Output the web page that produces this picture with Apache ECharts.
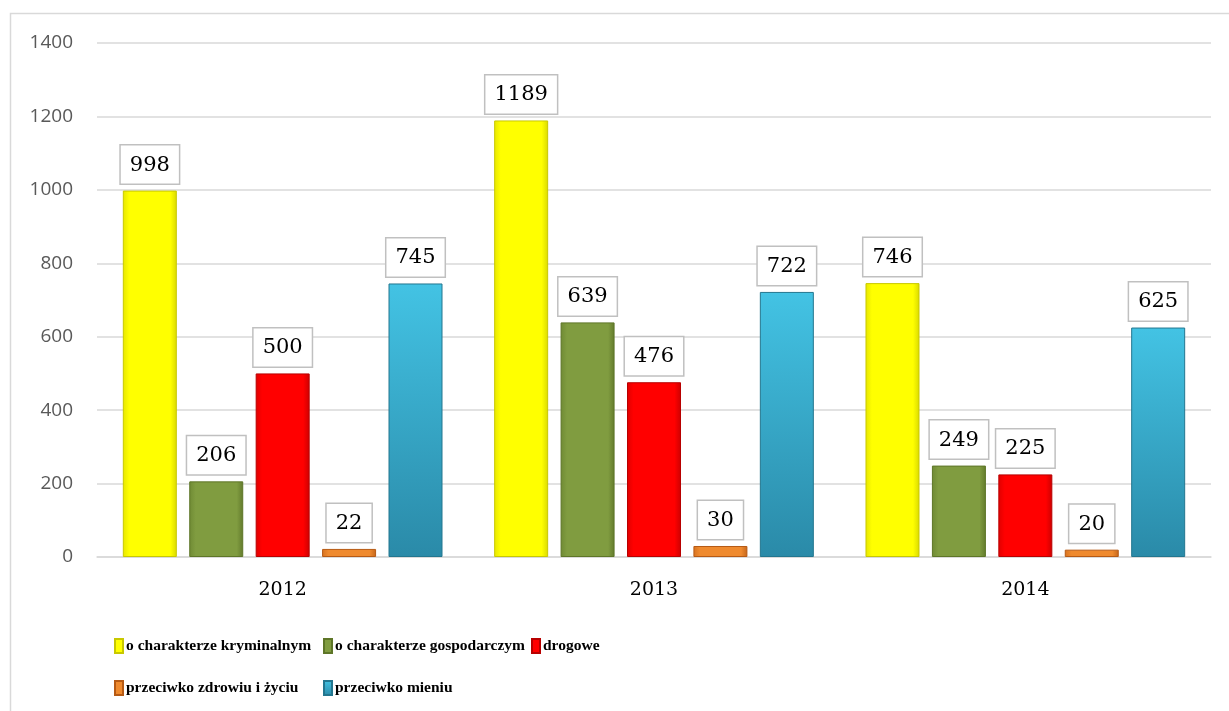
<!DOCTYPE html>
<html>
<head>
<meta charset="utf-8">
<script src="https://cdn.jsdelivr.net/npm/echarts@6/dist/echarts.min.js"></script>
<style>
  html, body { margin: 0; padding: 0; background: #fff; }
  #chart { width: 1229px; height: 711px; }
</style>
</head>
<body>
<div id="chart"></div>
<script>
  // dane z wykresu
  const years = ['2012', '2013', '2014'];
  const kryminalne = [998, 1189, 746];
  const gospodarcze = [206, 639, 249];
  const drogowe = [500, 476, 225];
  const zdrowie = [22, 30, 20];
  const mienie = [745, 722, 625];
  const yTicks = [0, 200, 400, 600, 800, 1000, 1200, 1400];

  const names = [
    'o charakterze kryminalnym',
    'o charakterze gospodarczym',
    'drogowe',
    'przeciwko zdrowiu i życiu',
    'przeciwko mieniu'
  ];

  function grad(c1, c2, c3) {
    return new echarts.graphic.LinearGradient(0, 0, 1, 0, [
      { offset: 0, color: c1 },
      { offset: 0.12, color: c2 },
      { offset: 0.88, color: c2 },
      { offset: 1, color: c3 }
    ]);
  }

  const colors = [
    grad('#e6e600', '#ffff00', '#d9d900'),
    grad('#6f8a34', '#809c40', '#627a2c'),
    grad('#e00000', '#ff0000', '#cc0000'),
    grad('#d7721f', '#ef8a2e', '#c4651a'),
    new echarts.graphic.LinearGradient(0, 0, 0, 1, [
      { offset: 0, color: '#43c3e4' },
      { offset: 1, color: '#2a8aa8' }
    ])
  ];
  const borders = ['#c8c800', '#5e7628', '#b80000', '#b65a14', '#23768f'];

  const label = {
    show: true,
    position: 'top',
    distance: 7,
    color: '#000',
    fontFamily: 'DejaVu Serif',
    fontSize: 21,
    lineHeight: 21,
    backgroundColor: '#fff',
    borderColor: '#c0c0c0',
    borderWidth: 1.5,
    padding: [9, 9, 8, 9]
  };

  const data = [kryminalne, gospodarcze, drogowe, zdrowie, mienie];

  const series = data.map((d, i) => ({
    name: names[i],
    type: 'bar',
    data: d,
    barWidth: 54,
    barGap: '23%',
    itemStyle: { color: colors[i], borderColor: borders[i], borderWidth: 1 },
    label: label
  }));

  const legendBase = {
    orient: 'vertical',
    itemWidth: 8,
    itemHeight: 14,
    itemGap: 26,
    icon: 'rect',
    textStyle: {
      fontFamily: 'Liberation Serif',
      fontWeight: 'bold',
      fontSize: 15.5,
      color: '#000',
      padding: [0, 0, 0, -2]
    }
  };

  const chart = echarts.init(document.getElementById('chart'));
  chart.setOption({
    animation: false,
    backgroundColor: '#fff',
    graphic: [{
      type: 'rect',
      left: 8, top: 11,
      shape: { width: 1240, height: 720 },
      style: { fill: 'none', stroke: '#d9d9d9', lineWidth: 1.5 },
      silent: true
    }],
    grid: { left: 97, right: 18, top: 43, bottom: 154 },
    legend: [
      Object.assign({}, legendBase, { left: 109, top: 633, data: [names[0], names[3]] }),
      Object.assign({}, legendBase, { left: 318, top: 633, data: [names[1], names[4]] }),
      Object.assign({}, legendBase, { left: 526, top: 633, data: [names[2]] })
    ],
    xAxis: {
      type: 'category',
      data: years,
      axisLine: { lineStyle: { color: '#d9d9d9', width: 1.5 } },
      axisTick: { show: false },
      axisLabel: { color: '#000', fontFamily: 'DejaVu Serif', fontSize: 19, margin: 24 }
    },
    yAxis: {
      type: 'value',
      min: yTicks[0],
      max: yTicks[yTicks.length - 1],
      interval: 200,
      axisLine: { show: false },
      axisTick: { show: false },
      splitLine: { lineStyle: { color: '#d9d9d9', width: 1.5 } },
      axisLabel: {
        color: '#595959', fontFamily: 'Open Sans', fontSize: 19, margin: 24,
        formatter: v => String(v)
      }
    },
    series: series
  });
</script>
</body>
</html>
